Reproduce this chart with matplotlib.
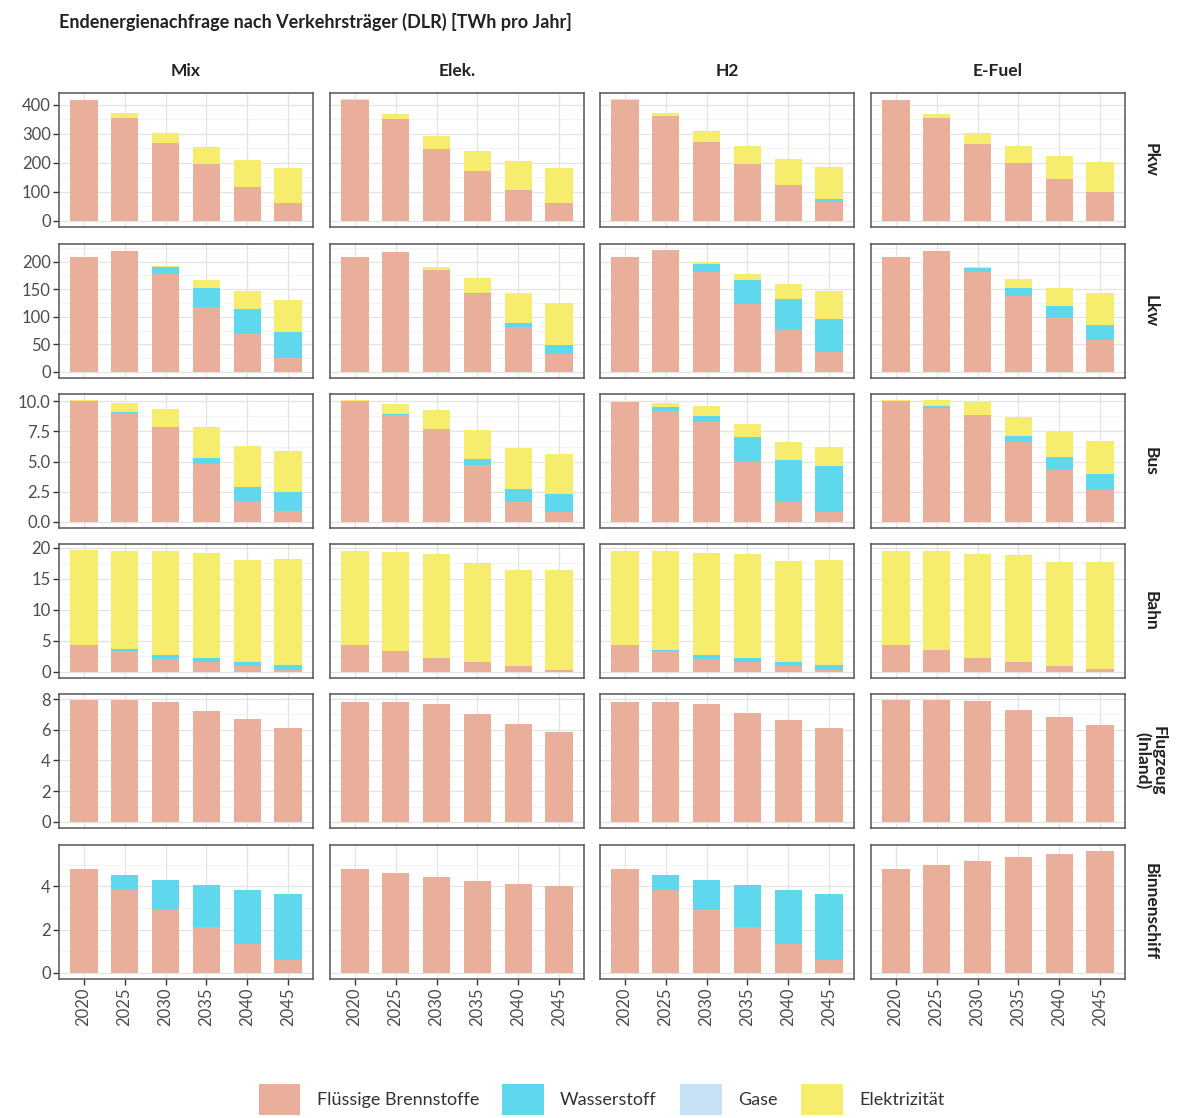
import matplotlib
matplotlib.use("Agg")
import matplotlib.pyplot as plt
from matplotlib.patches import Patch
import numpy as np

plt.rcParams['font.family'] = ['Lato', 'DejaVu Sans']

years = ['2020', '2025', '2030', '2035', '2040', '2045']
scenarios = ['Mix', 'Elek.', 'H2', 'E-Fuel']
sectors = ['Pkw', 'Lkw', 'Bus', 'Bahn', 'Flugzeug\n(Inland)', 'Binnenschiff']
carriers = ['Flüssige Brennstoffe', 'Wasserstoff', 'Gase', 'Elektrizität']

# rows = sectors (Pkw, Lkw, Bus, Bahn, Flugzeug, Binnenschiff), cols = years
fluessig_mix = [[415, 353, 268, 195, 118, 63],
                [208, 220, 177, 117, 68, 26],
                [10.0, 9.0, 7.85, 4.8, 1.77, 0.94],
                [4.3, 3.3, 2.15, 1.6, 0.9, 0.37],
                [7.93, 7.93, 7.83, 7.25, 6.7, 6.13],
                [4.81, 3.82, 2.93, 2.14, 1.34, 0.61]]
wasserstoff_mix = [[0, 0, 0, 0, 0, 0],
                   [0, 0, 13, 36, 46, 46],
                   [0, 0.1, 0, 0.53, 1.13, 1.52],
                   [0, 0.4, 0.63, 0.65, 0.7, 0.7],
                   [0, 0, 0, 0, 0, 0],
                   [0, 0.71, 1.34, 1.91, 2.48, 3.04]]
gase_mix = [[0, 0, 0, 0, 0, 0],
            [0, 0, 0, 0, 0, 0],
            [0.03, 0, 0, 0, 0, 0],
            [0, 0, 0, 0, 0, 0],
            [0, 0, 0, 0, 0, 0],
            [0, 0, 0, 0, 0, 0]]
strom_mix = [[0, 17, 34, 58, 92, 120],
             [0, 0, 2, 14, 33, 58],
             [0.05, 0.76, 1.54, 2.52, 3.37, 3.44],
             [15.3, 15.8, 16.6, 16.95, 16.4, 17.1],
             [0, 0, 0, 0, 0, 0],
             [0, 0, 0, 0, 0, 0]]

fluessig_elek = [[415, 352, 246, 172, 105, 60],
                 [208, 218, 185, 141, 82, 33],
                 [10.0, 8.9, 7.7, 4.7, 1.66, 0.83],
                 [4.3, 3.37, 2.25, 1.66, 0.96, 0.37],
                 [7.83, 7.78, 7.68, 7.03, 6.38, 5.86],
                 [4.81, 4.61, 4.43, 4.26, 4.08, 4.0]]
wasserstoff_elek = [[0, 0, 0, 0, 0, 0],
                    [0, 0, 0, 3, 7, 15],
                    [0, 0.05, 0, 0.55, 1.07, 1.52],
                    [0, 0, 0, 0, 0, 0],
                    [0, 0, 0, 0, 0, 0],
                    [0, 0, 0, 0, 0, 0]]
gase_elek = [[0, 0, 0, 0, 0, 0],
             [0, 0, 0, 0, 0, 0],
             [0.03, 0, 0, 0, 0, 0],
             [0, 0, 0, 0, 0, 0],
             [0, 0, 0, 0, 0, 0],
             [0, 0, 0, 0, 0, 0]]
strom_elek = [[4, 15, 45, 70, 100, 123],
              [0, 0, 5, 26, 55, 77],
              [0.05, 0.83, 1.55, 2.4, 3.4, 3.31],
              [15.2, 15.9, 16.65, 15.94, 15.44, 16.03],
              [0, 0, 0, 0, 0, 0],
              [0, 0, 0, 0, 0, 0]]

fluessig_h2 = [[415, 361, 273, 197, 122, 65],
               [208, 221, 182, 123, 76, 36],
               [9.94, 9.23, 8.29, 5.03, 1.71, 0.86],
               [4.4, 3.3, 2.14, 1.66, 0.96, 0.37],
               [7.82, 7.78, 7.68, 7.12, 6.62, 6.12],
               [4.81, 3.82, 2.92, 2.14, 1.34, 0.61]]
wasserstoff_h2 = [[0, 0, 0, 0, 0, 9],
                  [0, 0, 14, 43, 56, 60],
                  [0, 0.27, 0.52, 1.99, 3.43, 3.75],
                  [0, 0.3, 0.64, 0.59, 0.64, 0.7],
                  [0, 0, 0, 0, 0, 0],
                  [0, 0.71, 1.35, 1.91, 2.48, 3.04]]
gase_h2 = [[0, 0, 0, 0, 0, 0],
           [0, 0, 0, 0, 0, 0],
           [0.03, 0, 0, 0, 0, 0],
           [0, 0, 0, 0, 0, 0],
           [0, 0, 0, 0, 0, 0],
           [0, 0, 0, 0, 0, 0]]
strom_h2 = [[4, 9, 36, 61, 90, 112],
            [0, 0, 4, 11, 28, 51],
            [0.03, 0.39, 0.8, 1.13, 1.49, 1.63],
            [15.1, 15.9, 16.3, 16.65, 16.3, 16.9],
            [0, 0, 0, 0, 0, 0],
            [0, 0, 0, 0, 0, 0]]

fluessig_efuel = [[415, 355, 265, 200, 144, 101],
                  [208, 220, 182, 137, 97, 58],
                  [10.0, 9.45, 8.9, 6.63, 4.4, 2.68],
                  [4.4, 3.5, 2.25, 1.66, 0.96, 0.48],
                  [7.93, 7.93, 7.87, 7.3, 6.8, 6.28],
                  [4.81, 4.96, 5.18, 5.33, 5.48, 5.62]]
wasserstoff_efuel = [[0, 0, 0, 0, 0, 0],
                     [0, 0, 6, 16, 23, 28],
                     [0, 0.15, 0, 0.52, 0.96, 1.32],
                     [0, 0, 0, 0, 0, 0],
                     [0, 0, 0, 0, 0, 0],
                     [0, 0, 0, 0, 0, 0]]
gase_efuel = [[0, 0, 0, 0, 0, 0],
              [0, 0, 0, 0, 0, 0],
              [0.03, 0, 0, 0, 0, 0],
              [0, 0, 0, 0, 0, 0],
              [0, 0, 0, 0, 0, 0],
              [0, 0, 0, 0, 0, 0]]
strom_efuel = [[0, 13, 37, 58, 79, 103],
               [0, 0, 3, 16, 33, 57],
               [0.07, 0.5, 1.04, 1.55, 2.14, 2.7],
               [15.1, 16.0, 16.75, 17.14, 16.8, 17.27],
               [0, 0, 0, 0, 0, 0],
               [0, 0, 0, 0, 0, 0]]

y_breaks = [[0, 100, 200, 300, 400],
            [0, 50, 100, 150, 200],
            [0, 2.5, 5, 7.5, 10],
            [0, 5, 10, 15, 20],
            [0, 2, 4, 6, 8],
            [0, 2, 4]]
y_labels = [['0', '100', '200', '300', '400'],
            ['0', '50', '100', '150', '200'],
            ['0.0', '2.5', '5.0', '7.5', '10.0'],
            ['0', '5', '10', '15', '20'],
            ['0', '2', '4', '6', '8'],
            ['0', '2', '4']]

colors = ['#EAAF9A', '#5FD7EC', '#C7E2F6', '#F6EC6E']

data = {
    'Mix': [fluessig_mix, wasserstoff_mix, gase_mix, strom_mix],
    'Elek.': [fluessig_elek, wasserstoff_elek, gase_elek, strom_elek],
    'H2': [fluessig_h2, wasserstoff_h2, gase_h2, strom_h2],
    'E-Fuel': [fluessig_efuel, wasserstoff_efuel, gase_efuel, strom_efuel],
}

W, H = 1184, 1118
fig = plt.figure(figsize=(W / 100, H / 100), dpi=100)

col_left = [59, 330, 600, 871]
row_top = [93, 244, 394, 544, 694, 845]
pw, ph = 254, 134

txt_col = '#4D4D4D'
x = np.arange(len(years))

for r, sector in enumerate(sectors):
    # shared free y-scale per row (ggplot-like 5% expansion)
    row_max = max(np.sum([np.array(data[s][k][r]) for k in range(4)], axis=0).max()
                  for s in scenarios)
    ylo, yhi = -0.05 * row_max, 1.05 * row_max
    breaks = y_breaks[r]
    minor = [(a + b) / 2 for a, b in zip(breaks[:-1], breaks[1:])]
    minor.append(breaks[-1] + (breaks[1] - breaks[0]) / 2)
    for c, scen in enumerate(scenarios):
        ax = fig.add_axes([col_left[c] / W, 1 - (row_top[r] + ph) / H, pw / W, ph / H])
        ax.set_xlim(-0.6, 5.6)
        ax.set_ylim(ylo, yhi)
        ax.set_axisbelow(True)
        for yb in breaks:
            ax.axhline(yb, color='#E3E3E3', lw=0.9, zorder=0)
        for ym in minor:
            ax.axhline(ym, color='#EFEFEF', lw=0.5, zorder=0)
        for xi in x:
            ax.axvline(xi, color='#E3E3E3', lw=0.9, zorder=0)
        bottom = np.zeros(len(years))
        for k in range(4):
            vals = np.array(data[scen][k][r], dtype=float)
            ax.bar(x, vals, width=0.68, bottom=bottom, color=colors[k], zorder=2)
            bottom += vals
        for sp in ax.spines.values():
            sp.set_color('#555555')
            sp.set_linewidth(1.1)
        ax.set_yticks(breaks)
        ax.set_xticks(x)
        ax.tick_params(axis='both', length=4, width=1, color='#333333',
                       labelsize=12, labelcolor=txt_col, pad=2)
        if c == 0:
            ax.set_yticklabels(y_labels[r])
        else:
            ax.tick_params(axis='y', length=0, labelleft=False)
        if r == len(sectors) - 1:
            ax.set_xticklabels(years, rotation=90)
        else:
            ax.tick_params(axis='x', length=0, labelbottom=False)
        if r == 0:
            ax.set_title(scen, fontsize=12.5, fontweight='bold', color='#222222', pad=12)
        if c == len(scenarios) - 1:
            ax.text(1.1, 0.5, sector, transform=ax.transAxes, rotation=-90,
                    ha='center', va='center', fontsize=12.5, fontweight='bold',
                    color='#222222', linespacing=0.95)

fig.text(59 / W, 1 - 22 / H, 'Endenergienachfrage nach Verkehrsträger (DLR) [TWh pro Jahr]',
         ha='left', va='center', fontsize=13, fontweight='bold', color='#222222')

handles = [Patch(facecolor=colors[k], edgecolor='none') for k in range(4)]
fig.legend(handles, carriers, loc='lower center', bbox_to_anchor=(0.508, -0.012), ncol=4,
           frameon=False, fontsize=13, handlelength=2.3, handleheight=2.3,
           columnspacing=1.3, handletextpad=0.9, labelcolor='#333333')

fig.savefig('out.png', dpi=100)
